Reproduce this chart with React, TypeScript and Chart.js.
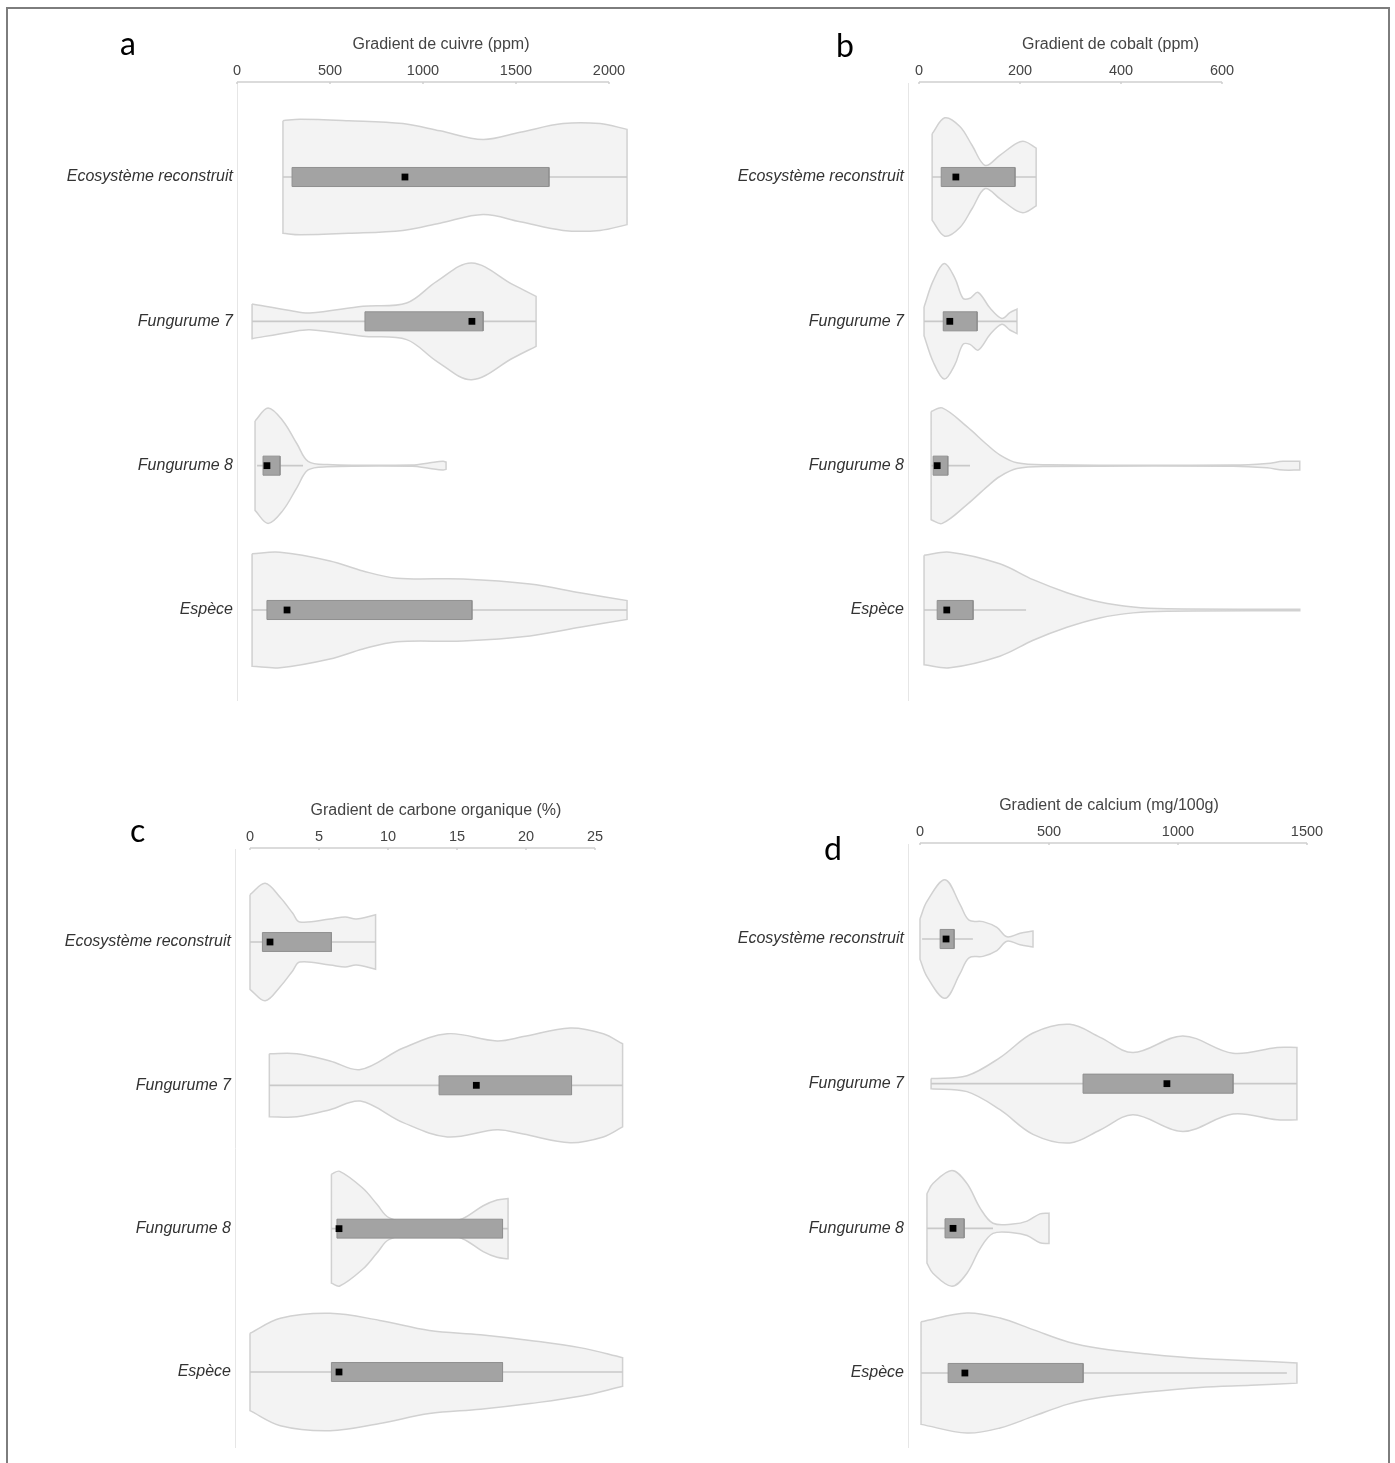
import React, { useEffect, useRef } from "react";
import { Chart, registerables } from "chart.js";
Chart.register(...registerables);
Chart.defaults.font.family = "'Liberation Sans', Arial, sans-serif";

// ---------- data ----------
const categories = ["Ecosystème reconstruit", "Fungurume 7", "Fungurume 8", "Espèce"];

// a — cuivre (ppm)  : violin profiles [value, half-width in category units]
const cuivreTicks = [0, 500, 1000, 1500, 2000];
const cuivreEco = [[247, 0.39], [339, 0.40], [600, 0.39], [892, 0.37], [1091, 0.32], [1323, 0.26], [1522, 0.31], [1753, 0.37], [1952, 0.37], [2097, 0.33]];
const cuivreF7 = [[81, 0.12], [285, 0.075], [392, 0.058], [677, 0.104], [912, 0.127], [1074, 0.277], [1262, 0.404], [1484, 0.254], [1608, 0.173]];
const cuivreF8 = [[97, 0.31], [167, 0.40], [247, 0.31], [323, 0.15], [382, 0.03], [484, 0.008], [941, 0.004], [1038, 0.02], [1108, 0.03], [1124, 0.025]];
const cuivreEsp = [[81, 0.39], [231, 0.40], [500, 0.34], [677, 0.27], [860, 0.22], [1215, 0.215], [1575, 0.18], [1844, 0.12], [2097, 0.065]];
const cuivreQ1 = [296, 688, 140, 161];
const cuivreQ3 = [1677, 1323, 231, 1263];
const cuivreMedian = [903, 1263, 161, 269];
const cuivreWhiskerLow = [247, 81, 108, 81];
const cuivreWhiskerHigh = [2097, 1608, 355, 2097];

// b — cobalt (ppm)
const cobaltTicks = [0, 200, 400, 600];
const cobaltEco = [[26, 0.30], [51, 0.41], [81, 0.35], [105, 0.22], [131, 0.08], [160, 0.15], [194, 0.235], [210, 0.245], [232, 0.20]];
const cobaltF7 = [[10, 0.10], [28, 0.28], [50, 0.40], [71, 0.30], [87, 0.16], [101, 0.16], [117, 0.20], [141, 0.09], [164, 0.02], [180, 0.06], [194, 0.085]];
const cobaltF8 = [[24, 0.375], [46, 0.40], [95, 0.27], [135, 0.145], [160, 0.075], [194, 0.02], [253, 0.006], [622, 0.004], [689, 0.015], [721, 0.03], [754, 0.03]];
const cobaltEsp = [[10, 0.38], [61, 0.40], [160, 0.32], [226, 0.21], [293, 0.12], [358, 0.055], [424, 0.02], [491, 0.008], [754, 0.005]];
const cobaltQ1 = [44, 48, 28, 36];
const cobaltQ3 = [190, 115, 57, 107];
const cobaltMedian = [73, 61, 36, 55];
const cobaltWhiskerLow = [26, 10, 24, 10];
const cobaltWhiskerHigh = [232, 194, 101, 212];

// c — carbone organique (%)
const carboneTicks = [0, 5, 10, 15, 20, 25];
const carboneEco = [[0, 0.33], [1.1, 0.41], [2.2, 0.31], [3.1, 0.2], [3.6, 0.14], [5.8, 0.16], [6.9, 0.175], [7.7, 0.16], [9.1, 0.19]];
const carboneF7 = [[1.4, 0.22], [3.4, 0.22], [5.8, 0.17], [8.0, 0.11], [11.1, 0.26], [14.3, 0.36], [17.9, 0.31], [19.8, 0.34], [23.2, 0.40], [25.6, 0.36], [27.0, 0.29]];
const carboneF8 = [[5.9, 0.38], [6.5, 0.40], [8.2, 0.28], [9.2, 0.17], [10.1, 0.075], [13.0, 0.01], [15.4, 0.07], [16.9, 0.16], [17.9, 0.20], [18.7, 0.21]];
const carboneEsp = [[0, 0.27], [2.2, 0.375], [5.8, 0.41], [9.4, 0.36], [13.0, 0.29], [16.7, 0.26], [20.3, 0.22], [23.9, 0.17], [27.0, 0.10]];
const carboneQ1 = [0.9, 13.7, 6.3, 5.9];
const carboneQ3 = [5.9, 23.3, 18.3, 18.3];
const carboneMedian = [1.45, 16.4, 6.45, 6.45];
const carboneWhiskerLow = [0, 1.4, 5.9, 0];
const carboneWhiskerHigh = [9.1, 27.0, 18.7, 27.0];

// d — calcium (mg/100g)
const calciumTicks = [0, 500, 1000, 1500];
const calciumEco = [[0, 0.14], [27, 0.26], [97, 0.41], [155, 0.24], [190, 0.13], [244, 0.12], [298, 0.08], [337, 0.015], [388, 0.04], [438, 0.055]];
const calciumF7 = [[43, 0.035], [182, 0.055], [310, 0.18], [438, 0.35], [581, 0.41], [698, 0.32], [826, 0.215], [1019, 0.33], [1213, 0.21], [1384, 0.25], [1461, 0.25]];
const calciumF8 = [[27, 0.24], [50, 0.31], [124, 0.40], [182, 0.31], [233, 0.14], [283, 0.035], [360, 0.03], [415, 0.05], [465, 0.10], [500, 0.105]];
const calciumEsp = [[4, 0.355], [182, 0.415], [310, 0.38], [438, 0.30], [574, 0.215], [698, 0.17], [891, 0.13], [1085, 0.10], [1283, 0.085], [1461, 0.07]];
const calciumQ1 = [78, 632, 97, 109];
const calciumQ3 = [132, 1213, 171, 632];
const calciumMedian = [101, 957, 128, 174];
const calciumWhiskerLow = [8, 43, 27, 4];
const calciumWhiskerHigh = [205, 1461, 283, 1422];

// ---------- styles / layout ----------
const Y_AXIS_W = 200;
const X_AXIS_H = 52;
const PAD_R = 25;
const PAD_B = 15;
const BOX_HALF = 0.066;
const VIOLIN_FILL = "#f3f3f3";
const VIOLIN_LINE = "#d1d1d1";
const WHISKER = "#c9c9c9";
const BOX_FILL = "#a3a3a3";
const BOX_LINE = "#909090";
const TEXT = "#444444";

const panels = [
  { key: "a", title: "Gradient de cuivre (ppm)", ticks: cuivreTicks, violins: [cuivreEco, cuivreF7, cuivreF8, cuivreEsp], q1: cuivreQ1, q3: cuivreQ3, median: cuivreMedian, wLo: cuivreWhiskerLow, wHi: cuivreWhiskerHigh,
    px0: 237, ppu: (609 - 237) / 2000, left: 237, right: 645, top: 83, bottom: 700, cy0: 177, cyStep: 144.33, letter: { x: 120, y: 23 } },
  { key: "b", title: "Gradient de cobalt (ppm)", ticks: cobaltTicks, violins: [cobaltEco, cobaltF7, cobaltF8, cobaltEsp], q1: cobaltQ1, q3: cobaltQ3, median: cobaltMedian, wLo: cobaltWhiskerLow, wHi: cobaltWhiskerHigh,
    px0: 919, ppu: (1222 - 919) / 600, left: 908, right: 1313, top: 83, bottom: 700, cy0: 177, cyStep: 144.33, letter: { x: 836, y: 25 } },
  { key: "c", title: "Gradient de carbone organique (%)", ticks: carboneTicks, violins: [carboneEco, carboneF7, carboneF8, carboneEsp], q1: carboneQ1, q3: carboneQ3, median: carboneMedian, wLo: carboneWhiskerLow, wHi: carboneWhiskerHigh,
    px0: 250, ppu: (595 - 250) / 25, left: 235, right: 637, top: 849, bottom: 1447, cy0: 942, cyStep: 143.33, letter: { x: 130, y: 810 } },
  { key: "d", title: "Gradient de calcium (mg/100g)", ticks: calciumTicks, violins: [calciumEco, calciumF7, calciumF8, calciumEsp], q1: calciumQ1, q3: calciumQ3, median: calciumMedian, wLo: calciumWhiskerLow, wHi: calciumWhiskerHigh,
    px0: 920, ppu: (1307 - 920) / 1500, left: 908, right: 1310, top: 844, bottom: 1447, cy0: 939, cyStep: 144.67, letter: { x: 824, y: 828 } },
];

function violinPoints(profile: number[][], c: number) {
  const top = profile.map(([v, w]) => ({ x: v, y: c - w }));
  const bot = profile.map(([v, w]) => ({ x: v, y: c + w })).reverse();
  const n = top.length;
  return [...top, top[n - 1], bot[0], ...bot, bot[n - 1], top[0]];
}

const axisLinePlugin = {
  id: "axisLine",
  afterDraw(chart: any) {
    const x = chart.scales.x;
    const t = x.ticks;
    if (!t.length) return;
    const { ctx, chartArea } = chart;
    const x0 = x.getPixelForValue(t[0].value);
    const x1 = x.getPixelForValue(t[t.length - 1].value);
    const y = chartArea.top - 1;
    ctx.save();
    ctx.strokeStyle = "#cfcfcf";
    ctx.lineWidth = 1.5;
    ctx.beginPath();
    ctx.moveTo(x0, y);
    ctx.lineTo(x1, y);
    for (const tk of t) {
      const px = x.getPixelForValue(tk.value);
      ctx.moveTo(px, y);
      ctx.lineTo(px, y + 2);
    }
    ctx.stroke();
    ctx.restore();
  },
};

function Panel({ cfg }: { cfg: any }) {
  const ref = useRef<HTMLCanvasElement | null>(null);
  const cLeft = cfg.left - Y_AXIS_W;
  const cTop = cfg.top - X_AXIS_H;
  const cW = cfg.right + PAD_R - cLeft;
  const cH = cfg.bottom + PAD_B - cTop;
  useEffect(() => {
    if (!ref.current) return;
    const datasets: any[] = [];
    categories.forEach((_, i) => {
      datasets.push({
        data: violinPoints(cfg.violins[i], i),
        showLine: true, tension: 0.35, fill: "shape",
        backgroundColor: VIOLIN_FILL, borderColor: VIOLIN_LINE, borderWidth: 1.5,
        pointRadius: 0, order: 4,
      });
      datasets.push({
        data: [{ x: cfg.wLo[i], y: i }, { x: cfg.wHi[i], y: i }],
        showLine: true, tension: 0, fill: false,
        borderColor: WHISKER, borderWidth: 1.6, pointRadius: 0, order: 3,
      });
      datasets.push({
        data: [
          { x: cfg.q1[i], y: i - BOX_HALF }, { x: cfg.q3[i], y: i - BOX_HALF },
          { x: cfg.q3[i], y: i + BOX_HALF }, { x: cfg.q1[i], y: i + BOX_HALF },
          { x: cfg.q1[i], y: i - BOX_HALF },
        ],
        showLine: true, tension: 0, fill: "shape",
        backgroundColor: BOX_FILL, borderColor: BOX_LINE, borderWidth: 1,
        pointRadius: 0, order: 2,
      });
      datasets.push({
        data: [{ x: cfg.median[i], y: i }],
        showLine: false, pointStyle: "rect", pointRadius: 4.8,
        pointBackgroundColor: "#000", pointBorderColor: "#000", pointBorderWidth: 0, order: 1,
      });
    });
    const xMin = (cfg.left - cfg.px0) / cfg.ppu;
    const xMax = (cfg.right - cfg.px0) / cfg.ppu;
    const yMin = -(cfg.cy0 - cfg.top) / cfg.cyStep;
    const yMax = 3 + (cfg.bottom - (cfg.cy0 + 3 * cfg.cyStep)) / cfg.cyStep;
    const chart = new Chart(ref.current, {
      type: "line",
      data: { datasets },
      options: {
        responsive: false,
        animation: false,
        events: [],
        layout: { padding: { left: 0, top: 0, right: PAD_R, bottom: PAD_B } },
        plugins: { legend: { display: false }, tooltip: { enabled: false } },
        scales: {
          x: {
            type: "linear", position: "top", min: xMin, max: xMax, bounds: "data",
            grid: { display: false, drawTicks: false }, border: { display: false },
            afterBuildTicks: (s: any) => { s.ticks = cfg.ticks.map((v: number) => ({ value: v })); },
            afterFit: (s: any) => { s.height = X_AXIS_H; },
            ticks: { font: { size: 14.5 }, color: TEXT, padding: 3, autoSkip: false, maxRotation: 0, callback: (v: any) => String(v) },
            title: { display: true, text: cfg.title, font: { size: 16 }, color: TEXT, padding: { top: 4, bottom: 4 } },
          },
          y: {
            type: "linear", reverse: true, min: yMin, max: yMax, bounds: "data",
            grid: { display: false, drawTicks: false }, border: { display: true, color: "#e6e6e6", width: 1 },
            afterBuildTicks: (s: any) => { s.ticks = categories.map((_, i) => ({ value: i })); },
            afterFit: (s: any) => { s.width = Y_AXIS_W; },
            ticks: { font: { size: 16, style: "italic" }, color: "#333", padding: 4, autoSkip: false, callback: (v: any) => categories[v] ?? "" },
          },
        },
      } as any,
      plugins: [axisLinePlugin],
    });
    return () => chart.destroy();
  }, []);
  return (
    <>
      <canvas ref={ref} width={cW} height={cH} style={{ position: "absolute", left: cLeft, top: cTop, width: cW, height: cH }} />
      <div style={{ position: "absolute", left: cfg.letter.x, top: cfg.letter.y, fontFamily: "Lato, 'Noto Sans', sans-serif", fontSize: 32, lineHeight: "40px", color: "#000" }}>{cfg.key}</div>
    </>
  );
}

export default function App() {
  return (
    <div style={{ position: "absolute", left: 0, top: 0, width: 1395, height: 1463, overflow: "hidden", background: "#fff" }}>
      <div style={{ position: "absolute", left: 6, top: 7, width: 1380, height: 1480, borderTop: "2px solid #7d7d7d", borderLeft: "2px solid #7d7d7d", borderRight: "2px solid #7d7d7d" }} />
      {panels.map((p) => <Panel key={p.key} cfg={p} />)}
    </div>
  );
}
